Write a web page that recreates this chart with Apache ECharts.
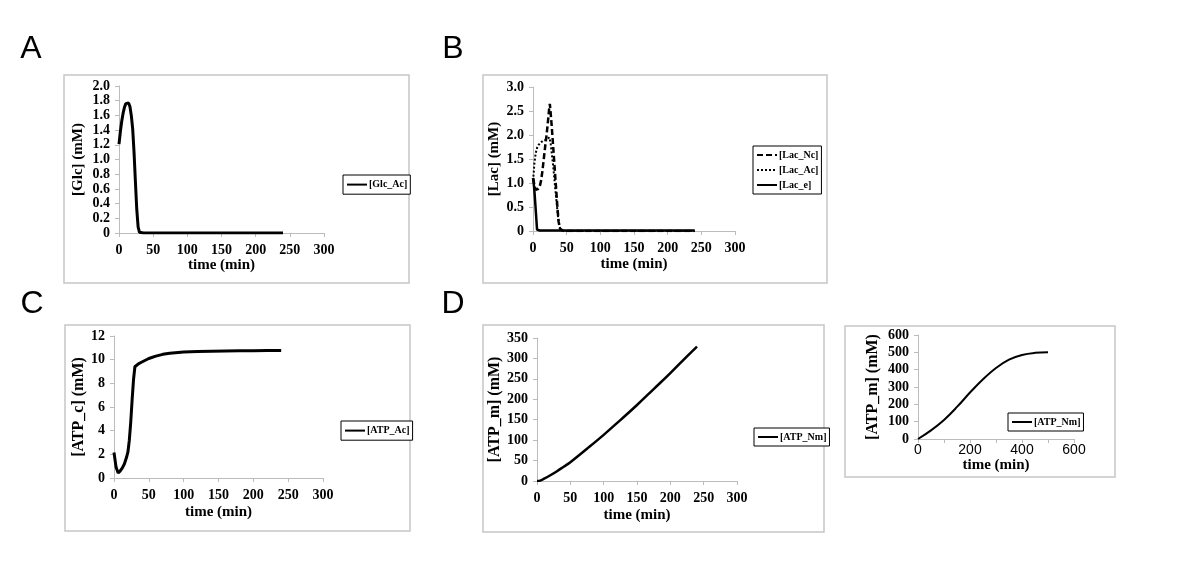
<!DOCTYPE html>
<html>
<head>
<meta charset="utf-8">
<script src="https://cdn.jsdelivr.net/npm/echarts@6/dist/echarts.min.js"></script>
<style>
  html, body { margin: 0; padding: 0; background: #fff; }
  #chart { width: 1200px; height: 564px; }
</style>
</head>
<body>
<div id="chart"></div>
<script>
// A: glucose
const tA = [0, 2, 4, 6, 8, 10, 12, 14, 16, 18, 20, 22, 24, 26, 28, 30, 32, 36, 40, 60, 80, 100, 120, 140, 160, 180, 200, 220, 240];
const glcAc = [1.21, 1.38, 1.52, 1.63, 1.71, 1.76, 1.78, 1.77, 1.72, 1.6, 1.42, 1.1, 0.7, 0.32, 0.08, 0.01, 0, 0, 0, 0, 0, 0, 0, 0, 0, 0, 0, 0, 0];

// B: lactate
const tB = [0, 1, 2, 4, 6, 8, 10, 12, 14, 16, 18, 20, 22, 24, 25, 26, 28, 30, 32, 34, 36, 38, 40, 42, 45, 50, 60, 80, 100, 120, 140, 160, 180, 200, 220, 240];
const lacNc = [1.1, 1.05, 0.95, 0.86, 0.85, 0.88, 0.93, 1.05, 1.25, 1.5, 1.75, 1.98, 2.25, 2.55, 2.65, 2.5, 2.15, 1.75, 1.35, 0.95, 0.55, 0.2, 0.05, 0.01, 0, 0, 0, 0, 0, 0, 0, 0, 0, 0, 0, 0];
const lacAc = [1.05, 1.2, 1.4, 1.62, 1.73, 1.79, 1.82, 1.85, 1.87, 1.89, 1.9, 1.9, 1.93, 1.95, 1.92, 1.85, 1.6, 1.35, 1.05, 0.75, 0.45, 0.2, 0.07, 0.02, 0, 0, 0, 0, 0, 0, 0, 0, 0, 0, 0, 0];
const lacE = [1.1, 1.0, 0.85, 0.45, 0.03, 0.01, 0.01, 0.01, 0.01, 0.01, 0.01, 0.01, 0.01, 0.01, 0.01, 0.01, 0.01, 0.01, 0.01, 0.01, 0.01, 0.01, 0.01, 0.01, 0.01, 0.01, 0.01, 0.01, 0.01, 0.01, 0.01, 0.01, 0.01, 0.01, 0.01, 0.01];

// C: ATP cytosol
const tC = [0, 3, 6, 9, 12, 15, 18, 20, 22, 24, 26, 28, 30, 35, 40, 50, 60, 70, 80, 100, 120, 140, 160, 180, 200, 220, 240];
const atpAc = [2.15, 0.9, 0.42, 0.6, 0.85, 1.2, 1.75, 2.2, 3.2, 4.7, 6.6, 8.3, 9.4, 9.65, 9.8, 10.1, 10.3, 10.45, 10.55, 10.65, 10.7, 10.72, 10.74, 10.75, 10.76, 10.77, 10.78];

// D: ATP mitochondria, 240 min
const tD = [0, 5, 10, 20, 30, 40, 50, 75, 100, 125, 150, 175, 200, 225, 240];
const atpNm = [0, 1, 5, 14, 24, 35, 46, 79, 113, 149, 186, 225, 264, 305, 329];

// D (right): ATP mitochondria, 500 min
const tE = [0, 50, 100, 150, 200, 250, 300, 350, 400, 450, 500];
const atpNmLong = [0, 50, 110, 185, 268, 345, 410, 458, 485, 497, 500];

const serif = 'Liberation Serif';
const labelStyle = { color: '#000', fontFamily: serif, fontWeight: 'bold', fontSize: 14 };
const nameStyle = { color: '#000', fontFamily: serif, fontWeight: 'bold', fontSize: 15 };
const axisLine = { show: true, lineStyle: { color: '#bcbcbc', width: 1 } };
const axisTick = { show: true, length: 4, lineStyle: { color: '#bcbcbc' } };

function pairs(t, v) { return t.map((x, i) => [x, v[i]]); }

function xAx(idx, max, interval, gap, extra) {
  return Object.assign({
    type: 'value', gridIndex: idx, min: 0, max: max, interval: interval,
    name: 'time (min)', nameLocation: 'middle', nameGap: gap,
    nameTextStyle: nameStyle,
    axisLine: axisLine, axisTick: axisTick, splitLine: { show: false },
    axisLabel: Object.assign({ margin: 10 }, labelStyle)
  }, extra || {});
}
function yAx(idx, max, interval, name, gap, fmt, fs) {
  return {
    type: 'value', gridIndex: idx, min: 0, max: max, interval: interval,
    name: name, nameLocation: 'middle', nameGap: gap, nameRotate: 90,
    nameTextStyle: Object.assign({}, nameStyle, { fontSize: fs || 15 }),
    axisLine: axisLine, axisTick: axisTick, splitLine: { show: false },
    axisLabel: Object.assign({ margin: 9, formatter: fmt }, labelStyle)
  };
}
const dec1 = v => v === 0 ? '0' : v.toFixed(1);

function lineSeries(name, xi, data, type, width, smooth) {
  return {
    name: name, type: 'line', xAxisIndex: xi, yAxisIndex: xi,
    data: data, symbol: 'none', smooth: smooth ? 0.4 : false,
    lineStyle: { color: '#000', width: width, type: type },
    itemStyle: { color: '#000' }, animation: false
  };
}

function legendBox(left, top, names, h) {
  return {
    left: left, top: top, orient: 'vertical', data: names,
    backgroundColor: '#fff', borderColor: '#000', borderWidth: 1,
    padding: [4, 3, 4, 3], itemGap: 5, itemWidth: 20, itemHeight: h || 12,
    itemStyle: { opacity: 0 },
    textStyle: { color: '#000', fontFamily: serif, fontWeight: 'bold', fontSize: 10, padding: [0, 0, 0, -3] },
    selectedMode: false
  };
}

function box(x1, y1, x2, y2) {
  return { type: 'rect', shape: { x: x1, y: y1, width: x2 - x1, height: y2 - y1 },
    style: { fill: 'none', stroke: '#c6c6c6', lineWidth: 1.5 }, z: -1 };
}
function letter(ch, x, y) {
  return { type: 'text', x: x, y: y,
    style: { text: ch, fill: '#000', font: '32px "Liberation Sans"', textAlign: 'center', textVerticalAlign: 'middle' } };
}

const chart = echarts.init(document.getElementById('chart'));
chart.setOption({
  backgroundColor: '#fff',
  animation: false,
  graphic: [
    box(64, 75, 409, 283),
    box(483, 75, 827, 283),
    box(65, 325, 410, 531),
    box(483, 325, 824, 532),
    box(845, 326, 1115, 477),
    letter('A', 31, 49),
    letter('B', 453, 49),
    letter('C', 32, 304),
    letter('D', 453, 304)
  ],
  grid: [
    { left: 119, top: 86, width: 205, height: 147 },
    { left: 533, top: 87, width: 202, height: 144 },
    { left: 114, top: 336, width: 209, height: 142 },
    { left: 537, top: 338, width: 200, height: 143 },
    { left: 918, top: 335, width: 156, height: 104 }
  ],
  xAxis: [
    xAx(0, 300, 50, 25),
    xAx(1, 300, 50, 26),
    xAx(2, 300, 50, 27),
    xAx(3, 300, 50, 27),
    xAx(4, 600, 100, 19, {
      axisLabel: { margin: 4, color: '#000', fontFamily: 'Liberation Sans', fontSize: 14,
        formatter: v => (v % 200 === 0 ? String(v) : '') }
    })
  ],
  yAxis: [
    yAx(0, 2, 0.2, '[Glc] (mM)', 33, dec1, 15),
    yAx(1, 3, 0.5, '[Lac] (mM)', 31, dec1, 15),
    yAx(2, 12, 2, '[ATP_c] (mM)', 26, null, 16),
    yAx(3, 350, 50, '[ATP_m] (mM)', 34, null, 16),
    yAx(4, 600, 100, '[ATP_m] (mM)', 37, null, 16)
  ],
  legend: [
    legendBox(343, 175, ['[Glc_Ac]'], 14),
    legendBox(753, 146, ['[Lac_Nc]', '[Lac_Ac]', '[Lac_e]']),
    legendBox(341, 421, ['[ATP_Ac]'], 14),
    Object.assign(legendBox(754, 428, ['[ATP_Nm]'], 12), { id: 'lgD' }),
    Object.assign(legendBox(1008, 413, ['[ATP_Nm]'], 12), { id: 'lgE' })
  ],
  series: [
    lineSeries('[Glc_Ac]', 0, pairs(tA, glcAc), 'solid', 3, false),
    lineSeries('[Lac_Nc]', 1, pairs(tB, lacNc), [6, 3], 2.5, false),
    lineSeries('[Lac_Ac]', 1, pairs(tB, lacAc), [2, 2], 2, false),
    lineSeries('[Lac_e]', 1, pairs(tB, lacE), 'solid', 2.5, false),
    lineSeries('[ATP_Ac]', 2, pairs(tC, atpAc), 'solid', 3, false),
    lineSeries('[ATP_Nm]', 3, pairs(tD, atpNm), 'solid', 2.5, true),
    lineSeries('[ATP_Nm]', 4, pairs(tE, atpNmLong), 'solid', 2, true)
  ]
});
</script>
</body>
</html>
